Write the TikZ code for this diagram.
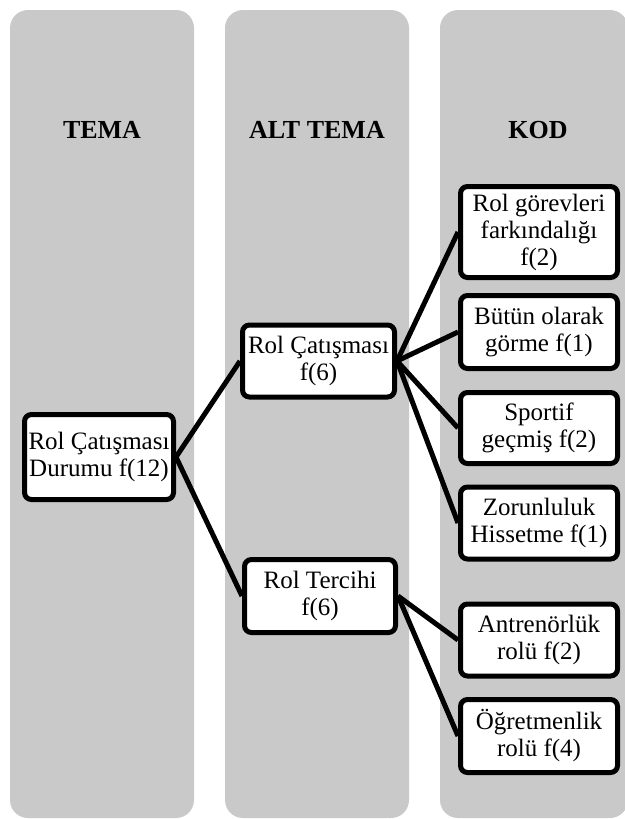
\documentclass[tikz,border=0pt]{standalone}
\usepackage{fontspec}
\setmainfont{Liberation Serif}
\definecolor{colgray}{RGB}{201,201,201}

\begin{document}
\begin{tikzpicture}[x=1pt, y=-1pt,
  column/.style={fill=colgray, rounded corners=18pt},
  head/.style={font=\fontsize{26}{30}\selectfont\bfseries},
  box/.style={draw, fill=white, line width=5pt, rounded corners=7pt, align=center, inner sep=1pt, font=\fontsize{25}{27}\selectfont},
  link/.style={line width=5pt}]
\useasboundingbox (0,0) rectangle (624,819);
\fill[column] (10,10) rectangle (194,818);
\fill[column] (225,10) rectangle (409,818);
\fill[column] (440,10) rectangle (628,818);
\node[head] (tema) at (102,130) {TEMA};
\node[head] (alttema) at (317,130) {ALT TEMA};
\node[head] (kod) at (538,130) {KOD};
\node[box, minimum width=149pt, minimum height=85pt] (durum) at (99,457) {Rol Çatışması\\Durumu f(12)};
\node[box, minimum width=152pt, minimum height=72pt] (catisma) at (318.5,361) {Rol Çatışması\\f(6)};
\node[box, minimum width=151pt, minimum height=73pt] (tercih) at (320,596) {Rol Tercihi\\f(6)};
\node[box, minimum width=157pt, minimum height=91pt] (farkindalik) at (539,232) {Rol görevleri\\farkındalığı\\f(2)};
\node[box, minimum width=157pt, minimum height=73pt] (butun) at (539,332) {Bütün olarak\\görme f(1)};
\node[box, minimum width=157pt, minimum height=71pt] (sportif) at (539,428) {Sportif\\geçmiş f(2)};
\node[box, minimum width=157pt, minimum height=72pt] (zorunluluk) at (539,523) {Zorunluluk\\Hissetme f(1)};
\node[box, minimum width=157pt, minimum height=72pt] (antrenor) at (539,640) {Antrenörlük\\rolü f(2)};
\node[box, minimum width=157pt, minimum height=73pt] (ogretmen) at (539,736) {Öğretmenlik\\rolü f(4)};
\draw[link] (durum.east) -- (catisma.west);
\draw[link] (durum.east) -- (tercih.west);
\draw[link] (catisma.east) -- (farkindalik.west);
\draw[link] (catisma.east) -- (butun.west);
\draw[link] (catisma.east) -- (sportif.west);
\draw[link] (catisma.east) -- (zorunluluk.west);
\draw[link] (tercih.east) -- (antrenor.west);
\draw[link] (tercih.east) -- (ogretmen.west);
\end{tikzpicture}
\end{document}
